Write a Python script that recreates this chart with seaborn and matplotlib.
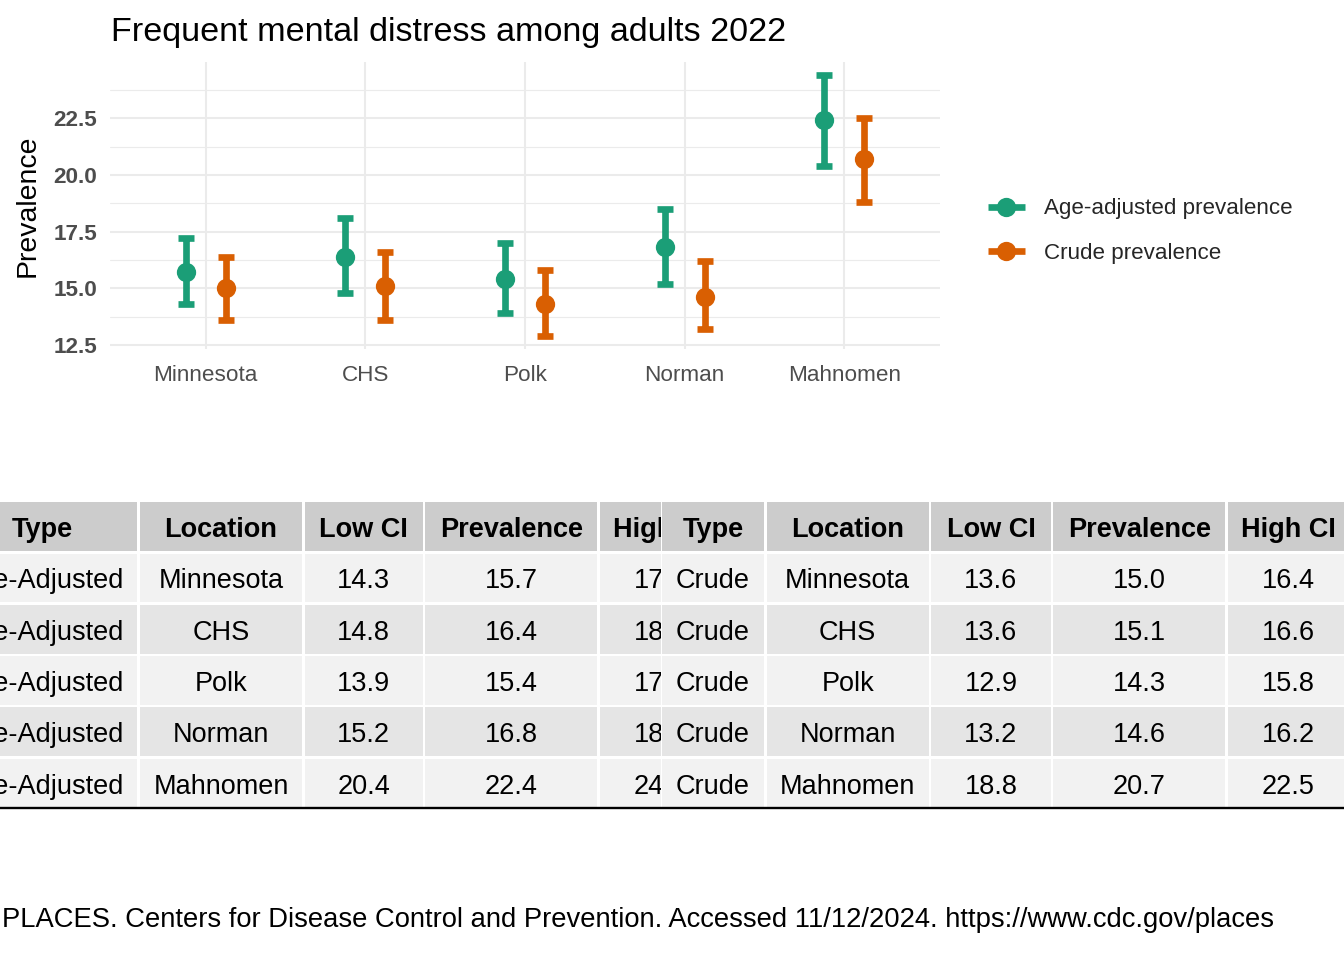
import numpy as np
import pandas as pd
import matplotlib
matplotlib.use("Agg")
import matplotlib.pyplot as plt
from matplotlib.lines import Line2D
from matplotlib.patches import Rectangle
import seaborn as sns

# ---------------- data ----------------
locations = ["Minnesota", "CHS", "Polk", "Norman", "Mahnomen"]
aa_low = [14.3, 14.8, 13.9, 15.2, 20.4]
aa_prev = [15.7, 16.4, 15.4, 16.8, 22.4]
aa_high = [17.2, 18.1, 17.0, 18.5, 24.4]
cr_low = [13.6, 13.6, 12.9, 13.2, 18.8]
cr_prev = [15.0, 15.1, 14.3, 14.6, 20.7]
cr_high = [16.4, 16.6, 15.8, 16.2, 22.5]
series_names = ["Age-adjusted prevalence", "Crude prevalence"]
table_types = ["Age-Adjusted", "Crude"]
table_headers = ["Type", "Location", "Low CI", "Prevalence", "High CI"]
colors = ["#1B9E77", "#D95F02"]
title = "Frequent mental distress among adults 2022"
y_label = "Prevalence"
y_ticks = [12.5, 15.0, 17.5, 20.0, 22.5]
y_minor = [13.75, 16.25, 18.75, 21.25, 23.75]
caption = ("PLACES. Centers for Disease Control and Prevention. "
           "Accessed 11/12/2024. https://www.cdc.gov/places")

# long table: low / estimate / high per location & series
rows = []
for name, lows, prevs, highs in zip(series_names, [aa_low, cr_low],
                                    [aa_prev, cr_prev], [aa_high, cr_high]):
    for loc, lo, pv, hi in zip(locations, lows, prevs, highs):
        for v in (lo, pv, hi):
            rows.append({"Location": loc, "Series": name, "Value": v})
df = pd.DataFrame(rows)

# ---------------- style ----------------
sns.set_style("white")
plt.rcParams["font.family"] = ["Liberation Sans", "DejaVu Sans"]

W, H = 1344, 960
fig = plt.figure(figsize=(W / 100, H / 100), dpi=100)

# full-figure pixel axes for tables / texts
tab = fig.add_axes([0, 0, 1, 1])
tab.set_xlim(0, W)
tab.set_ylim(H, 0)
tab.axis("off")

# ---------------- chart ----------------
ax = fig.add_axes([110 / W, 1 - 349 / H, 830 / W, 287 / H])
sns.pointplot(data=df, x="Location", y="Value", hue="Series",
              order=locations, hue_order=series_names, palette=colors,
              estimator="median", errorbar=("pi", 100), dodge=0.25,
              linestyle="none", marker="o", markersize=13.9,
              markeredgewidth=0, capsize=0.1,
              err_kws={"linewidth": 4.8, "solid_capstyle": "butt"},
              legend=False, ax=ax)
ax.set_xlim(-0.6, 4.6)
ax.set_ylim(12.325, 24.975)
ax.set_xlabel("")
ax.set_ylabel("")
ax.set_yticks(y_ticks)
ax.set_yticks(y_minor, minor=True)
ax.set_yticklabels([f"{t:.1f}" for t in y_ticks], fontweight="bold")
ax.set_axisbelow(True)
ax.grid(which="major", color="#ebebeb", linewidth=1.5)
ax.grid(which="minor", axis="y", color="#ebebeb", linewidth=0.8)
for s in ax.spines.values():
    s.set_visible(False)
ax.tick_params(which="both", length=0)
ax.tick_params(axis="x", pad=11.8, labelsize=16.2, labelcolor="#4d4d4d")
ax.tick_params(axis="y", pad=9.4, labelsize=16.2, labelcolor="#4d4d4d")

tab.text(111, 41, title, fontsize=24.6, ha="left", va="baseline", color="black")
tab.text(28, 206, y_label, fontsize=20.4, rotation=90, ha="center",
         va="center", color="black")

handles = [Line2D([], [], color=c, lw=4.8, marker="o", markersize=13.9,
                  markeredgewidth=0, solid_capstyle="butt") for c in colors]
fig.legend(handles, series_names, loc="center left",
           bbox_to_anchor=(988 / W, 1 - 231 / H), frameon=False,
           fontsize=16.1, handlelength=1.65, handletextpad=0.85,
           labelspacing=1.03, borderpad=0, borderaxespad=0)

# ---------------- tables ----------------
row_h = 51.3
y_edges = [501 + row_h * k for k in range(7)]
left_edges = [-54, 138.5, 303.5, 424, 598.5, 722]
right_edges = [660.5, 765.5, 930, 1052, 1226.5, 1350]


def draw_table(x_edges, type_label, lows, prevs, highs, z):
    tab.add_patch(Rectangle((x_edges[0], y_edges[0] - 1), x_edges[-1] - x_edges[0],
                            y_edges[-1] - y_edges[0] + 2, fc="white", ec="none",
                            zorder=z))
    body = [[type_label, loc, f"{lo:.1f}", f"{pv:.1f}", f"{hi:.1f}"]
            for loc, lo, pv, hi in zip(locations, lows, prevs, highs)]
    cells = [table_headers] + body
    for r in range(len(cells)):
        if r == 0:
            fill = "#cccccc"
        elif r % 2 == 1:
            fill = "#f2f2f2"
        else:
            fill = "#e5e5e5"
        for c in range(5):
            x0, x1 = x_edges[c], x_edges[c + 1]
            y0, y1 = y_edges[r], y_edges[r + 1]
            tab.add_patch(Rectangle((x0 + 1.2, y0 + 1.2), x1 - x0 - 2.4,
                                    y1 - y0 - 2.4, fc=fill, ec="none",
                                    zorder=z + 0.1))
            tab.text((x0 + x1) / 2, (y0 + y1) / 2 + 10.5, cells[r][c],
                     ha="center", va="baseline", fontsize=19.5,
                     fontweight="bold" if r == 0 else "normal",
                     color="black", zorder=z + 0.2)
    tab.plot([x_edges[0], x_edges[-1]], [807.7, 807.7], color="black",
             lw=1.7, solid_capstyle="butt", zorder=z + 0.3)


draw_table(left_edges, table_types[0], aa_low, aa_prev, aa_high, 1)
draw_table(right_edges, table_types[1], cr_low, cr_prev, cr_high, 2)

tab.text(2, 927, caption, fontsize=19.7, ha="left", va="baseline", color="black")

fig.savefig("out.png", dpi=100)
